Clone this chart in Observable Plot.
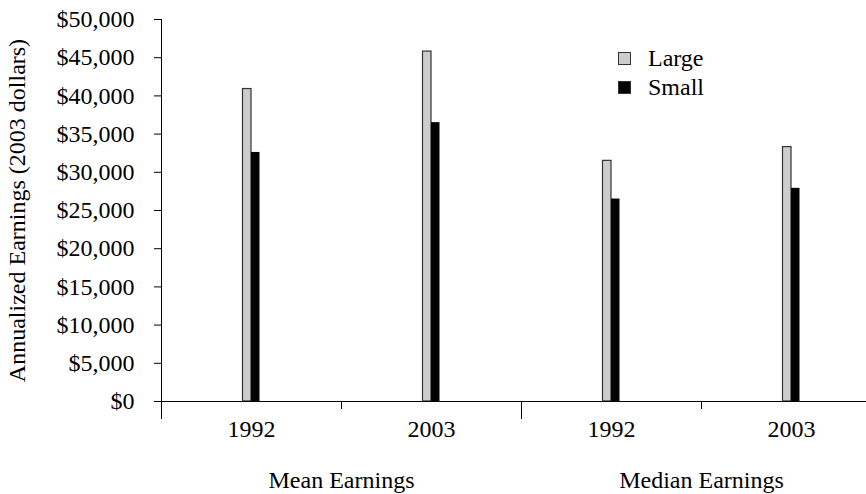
<!DOCTYPE html>
<html><head><meta charset="utf-8">
<script src="https://cdn.jsdelivr.net/npm/d3@7"></script>
<script src="https://cdn.jsdelivr.net/npm/@observablehq/plot@0.6"></script>
<style>
html,body{margin:0;padding:0;background:#fff;}
#wrap{position:relative;width:866px;height:494px;overflow:hidden;font-family:"Liberation Serif",serif;}
#legend{position:absolute;left:618px;top:44px;font-size:24px;line-height:29px;color:#000;}
.row{display:flex;align-items:center;height:29px;}
.sw{width:13px;height:13px;box-sizing:border-box;margin-right:17px;}
</style></head><body><div id="wrap"><div id="legend"></div></div>
<script>
const groupNames = ["Mean Earnings", "Median Earnings"];
const categories = ["1992", "2003", "1992", "2003"];
const categoryGroups = ["Mean Earnings", "Mean Earnings", "Median Earnings", "Median Earnings"];
const seriesNames = ["Large", "Small"];
const seriesColors = ["#cccccc", "#000000"];
const largeValues = [40900, 45800, 31500, 33300];
const smallValues = [32600, 36500, 26500, 27900];
const yTicks = [0, 5000, 10000, 15000, 20000, 25000, 30000, 35000, 40000, 45000, 50000];
const yLabel = "Annualized Earnings (2003 dollars)";

const n = categories.length;
const bars = categories.map((c, i) => ({i, cat: c, group: categoryGroups[i], large: largeValues[i], small: smallValues[i]}));
const groupStarts = categoryGroups.map((g, i) => (i === 0 || g !== categoryGroups[i - 1]) ? i : null).filter(d => d !== null);
const groupCenters = groupNames.map(g => {
  const idx = categoryGroups.map((d, i) => d === g ? i : -1).filter(i => i >= 0);
  return (idx[0] + idx[idx.length - 1] + 1) / 2;
});
const catCenters = categories.map((c, i) => i + 0.5);

const chart = Plot.plot({
  width: 866, height: 494,
  marginTop: 19, marginBottom: 93, marginLeft: 161, marginRight: 0,
  style: {fontFamily: "Liberation Serif", fontSize: "24px", color: "#000", background: "#fff", overflow: "visible"},
  x: {type: "linear", domain: [0, n], range: [161, 881], axis: null},
  y: {domain: [0, 50000], axis: null},
  marks: [
    Plot.rectY(bars, {x1: d => d.i, x2: d => d.i + 1, y1: 0, y2: "large", insetLeft: 81.5, insetRight: 90, fill: seriesColors[0], stroke: "#333", strokeWidth: 1.2}),
    Plot.rectY(bars, {x1: d => d.i, x2: d => d.i + 1, y1: 0, y2: "small", insetLeft: 90, insetRight: 81.5, fill: seriesColors[1]}),
    Plot.ruleY([0], {stroke: "#000"}),
    Plot.ruleX([0], {stroke: "#000"}),
    Plot.axisY(yTicks, {tickFormat: d3.format("$,"), tickSize: 7, tickPadding: 20, label: yLabel, labelAnchor: "center", labelOffset: 154, labelArrow: "none"}),
    Plot.axisX(groupStarts, {tickSize: 18, tickFormat: () => "", label: null}),
    Plot.axisX(catCenters, {tickSize: 0, tickPadding: 18, tickFormat: d => categories[Math.floor(d)], label: null}),
    Plot.axisX(groupCenters, {tickSize: 8, tickPadding: 61, tickFormat: d => groupNames[groupCenters.indexOf(d)], label: null})
  ]
});
document.getElementById("wrap").prepend(chart);

const legend = document.getElementById("legend");
seriesNames.forEach((s, k) => {
  const row = document.createElement("div");
  row.className = "row";
  const sw = document.createElement("div");
  sw.className = "sw";
  sw.style.background = seriesColors[k];
  sw.style.border = "1px solid #333";
  const t = document.createElement("span");
  t.textContent = s;
  row.appendChild(sw); row.appendChild(t);
  legend.appendChild(row);
});
</script></body></html>
